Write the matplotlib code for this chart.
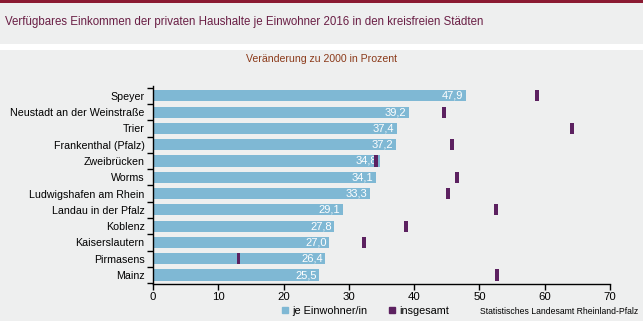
import matplotlib
matplotlib.use('Agg')
import matplotlib.pyplot as plt
from matplotlib.patches import Patch
import numpy as np

# Daten: verfügbares Einkommen 2016, Veränderung zu 2000 in Prozent
staedte = ['Speyer', 'Neustadt an der Weinstraße', 'Trier', 'Frankenthal (Pfalz)',
           'Zweibrücken', 'Worms', 'Ludwigshafen am Rhein', 'Landau in der Pfalz',
           'Koblenz', 'Kaiserslautern', 'Pirmasens', 'Mainz']
je_einwohner = [47.9, 39.2, 37.4, 37.2, 34.8, 34.1, 33.3, 29.1, 27.8, 27.0, 26.4, 25.5]
insgesamt = [58.8, 44.6, 64.2, 45.8, 34.1, 46.6, 45.2, 52.5, 38.7, 32.3, 13.1, 52.7]
x_ticks = [0, 10, 20, 30, 40, 50, 60, 70]

bg = '#eeefef'
blau = '#7fb8d4'
lila = '#5c2160'

plt.rcParams['font.family'] = ['Liberation Sans', 'DejaVu Sans']

fig = plt.figure(figsize=(6.43, 3.21), dpi=100, facecolor=bg)

# Kopfzeile
fig.add_artist(plt.Rectangle((0, 1 - 3 / 321), 1, 3 / 321, transform=fig.transFigure,
                             color='#8b1a32', lw=0))
fig.add_artist(plt.Rectangle((0, 1 - 50 / 321), 1, 6 / 321, transform=fig.transFigure,
                             color='white', lw=0))
fig.text(5 / 643, 1 - 22 / 321, 'Verfügbares Einkommen der privaten Haushalte je Einwohner 2016 in den kreisfreien Städten',
         fontsize=8.3, color='#6a1f45', va='center', ha='left')
fig.text(321 / 643, 1 - 59 / 321, 'Veränderung zu 2000 in Prozent',
         fontsize=7.6, color='#8b3a1a', va='center', ha='center')

ax = fig.add_axes([153 / 643, 1 - 284 / 321, (610 - 153) / 643, (284 - 86) / 321])
ax.set_facecolor(bg)

y = np.arange(len(staedte))
ax.barh(y, je_einwohner, height=0.68, color=blau, zorder=2)
# Markierung "insgesamt" als schmaler Balken
mw = 0.6
ax.barh(y, mw, left=np.array(insgesamt) - mw / 2, height=0.68, color=lila, zorder=3)

for yi, v in zip(y, je_einwohner):
    ax.text(v - 0.4, yi, f'{v:.1f}'.replace('.', ','), color='white', fontsize=8,
            ha='right', va='center', zorder=2.5)

ax.set_xlim(0, 70)
ax.set_ylim(len(staedte) - 0.45, -0.6)
ax.set_xticks(x_ticks)
ax.set_xticklabels([str(t) for t in x_ticks], fontsize=8.2)
ax.set_yticks(y)
ax.set_yticklabels(staedte, fontsize=7.7)
ax.set_yticks(np.arange(len(staedte) + 1) - 0.5, minor=True)
ax.tick_params(axis='y', which='major', length=0, pad=6)
ax.tick_params(axis='y', which='minor', length=4, width=1, direction='out')
ax.tick_params(axis='x', length=4, width=1, direction='out', pad=2)
for s in ['top', 'right']:
    ax.spines[s].set_visible(False)
ax.spines['left'].set_linewidth(1)
ax.spines['bottom'].set_linewidth(1)

handles = [Patch(color=blau), Patch(color=lila)]
fig.legend(handles, ['je Einwohner/in', 'insgesamt'], ncol=2, frameon=False,
           loc='center', bbox_to_anchor=(366 / 643, 1 - 311 / 321), fontsize=7.8,
           handlelength=0.55, handleheight=0.55, handletextpad=0.4, columnspacing=2.0)

fig.text(638 / 643, 1 - 311 / 321, 'Statistisches Landesamt Rheinland-Pfalz',
         fontsize=6.2, ha='right', va='center')

fig.savefig('out.png', dpi=100, facecolor=bg)
